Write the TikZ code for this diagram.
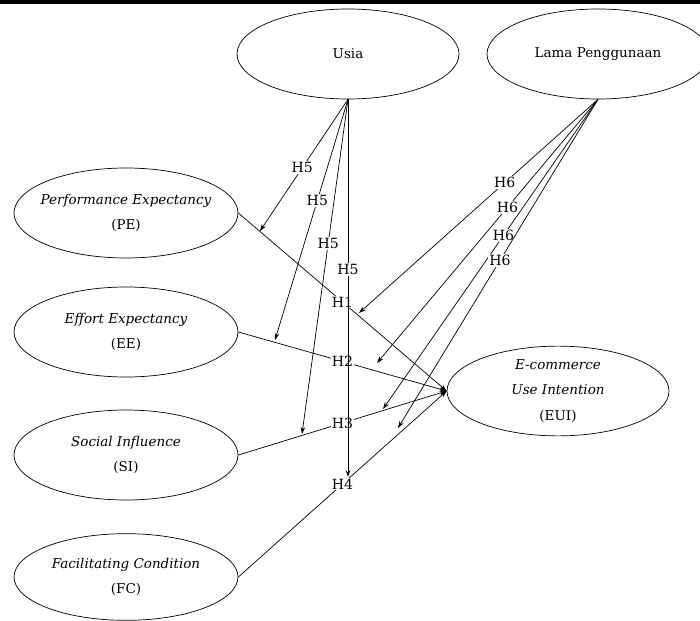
\documentclass[tikz,border=0pt]{standalone}
\usepackage{tikz}
\usepackage{fontspec}
\setmainfont{DejaVu Serif}
\usetikzlibrary{arrows.meta, shapes.geometric}

\begin{document}
\begin{tikzpicture}[x=0.03cm, y=-0.03cm,
    construct/.style={draw, ellipse, line width=0.6pt, minimum width=6.66cm, minimum height=2.7cm,
      inner xsep=-0.2cm, inner ysep=0pt, align=center, font=\fontsize{11.5}{22}\selectfont},
    hypo/.style={-{Stealth[length=6pt, width=4pt]}, line width=0.6pt},
    hlabel/.style={fill=white, inner sep=1pt, font=\fontsize{12}{14}\selectfont}]
      \useasboundingbox (0,0) rectangle (700,621);
      \fill (0,0) rectangle (700,4);

      % constructs
      \node[construct] (usia) at (348,54) {Usia};
      \node[construct] (lama) at (598,54) {Lama Penggunaan};
      \node[construct, minimum width=6.72cm] (pe) at (126,213) {\textit{Performance Expectancy}\\(PE)};
      \node[construct, minimum width=6.72cm] (ee) at (126,332) {\textit{Effort Expectancy}\\(EE)};
      \node[construct, minimum width=6.72cm] (si) at (126,455) {\textit{Social Influence}\\(SI)};
      \node[construct, minimum width=6.72cm, minimum height=2.6cm] (fc) at (126,577) {\textit{Facilitating Condition}\\(FC)};
      \node[construct, minimum height=2.64cm] (eui) at (558,391) {\textit{E-commerce}\\\textit{Use Intention}\\(EUI)};

      % direct effects
      \draw[hypo] (pe.east) -- node[hlabel] {H1} (eui.west);
      \draw[hypo] (ee.east) -- node[hlabel] {H2} (eui.west);
      \draw[hypo] (si.east) -- node[hlabel] {H3} (eui.west);
      \draw[hypo] (fc.east) -- node[hlabel] {H4} (eui.west);

      % moderation by usia
      \coordinate (pe5) at (260,231);
      \coordinate (ee5) at (275,340);
      \coordinate (si5) at (302,434);
      \coordinate (fc5) at (348,477);
      \draw[hypo] (usia.south) -- node[hlabel, pos=0.52] {H5} (pe5);
      \draw[hypo] (usia.south) -- node[hlabel, pos=0.42] {H5} (ee5);
      \draw[hypo] (usia.south) -- node[hlabel, pos=0.43] {H5} (si5);
      \draw[hypo] (usia.south) -- node[hlabel, pos=0.45] {H5} (fc5);

      % moderation by lama penggunaan
      \coordinate (pe6) at (359,313);
      \coordinate (ee6) at (377,363);
      \coordinate (si6) at (383,409);
      \coordinate (fc6) at (398,428);
      \draw[hypo] (lama.south) -- node[hlabel, pos=0.39] {H6} (pe6);
      \draw[hypo] (lama.south) -- node[hlabel, pos=0.41] {H6} (ee6);
      \draw[hypo] (lama.south) -- node[hlabel, pos=0.44] {H6} (si6);
      \draw[hypo] (lama.south) -- node[hlabel, pos=0.49] {H6} (fc6);
    \end{tikzpicture}
\end{document}
